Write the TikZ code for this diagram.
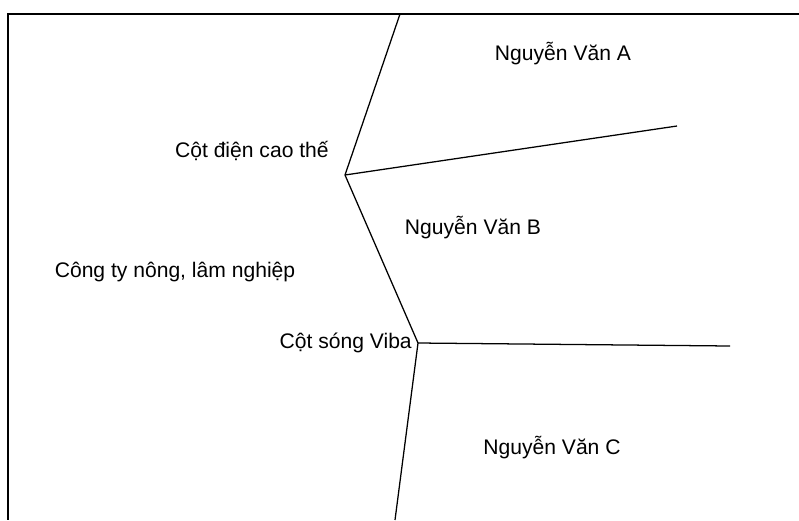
\documentclass[tikz,border=0pt]{standalone}
\usepackage{fontspec}
\setmainfont{Liberation Sans}
\usetikzlibrary{positioning}

\begin{document}
\begin{tikzpicture}[x=0.025cm,y=-0.025cm,every node/.style={inner sep=0pt,font=\fontsize{15}{17}\selectfont},frameline/.style={line width=1.4pt},plotline/.style={line width=0.9pt}]
	\useasboundingbox (0,0) rectangle (799,520);
	\coordinate (topright) at (799,14);
	\coordinate (topleft) at (8,14);
	\coordinate (bottomleft) at (8,520);
	\coordinate (top) at (400,14);
	\coordinate (hv) at (345,175);
	\coordinate (viba) at (418,343);
	\coordinate (bottom) at (395,520);
	\coordinate (aend) at (677,126);
	\coordinate (cend) at (730,346);
	\draw[frameline] (topright) -- (topleft) -- (bottomleft);
	\draw[plotline] (top) -- (hv) -- (viba) -- (bottom);
	\draw[plotline] (hv) -- (aend);
	\draw[plotline] (viba) -- (cend);
	\node[above left=0.35cm and 0.4cm of hv] (hvlabel) {Cột điện cao thế};
	\node[left=0.15cm of viba] (vibalabel) {Cột sóng Viba};
	\node (ownera) at (563,54) {Nguyễn Văn A};
	\node (ownerb) at (473,228) {Nguyễn Văn B};
	\node (ownerc) at (552,448) {Nguyễn Văn C};
	\node (company) at (175,272) {Công ty nông, lâm nghiệp};
\end{tikzpicture}
\end{document}
